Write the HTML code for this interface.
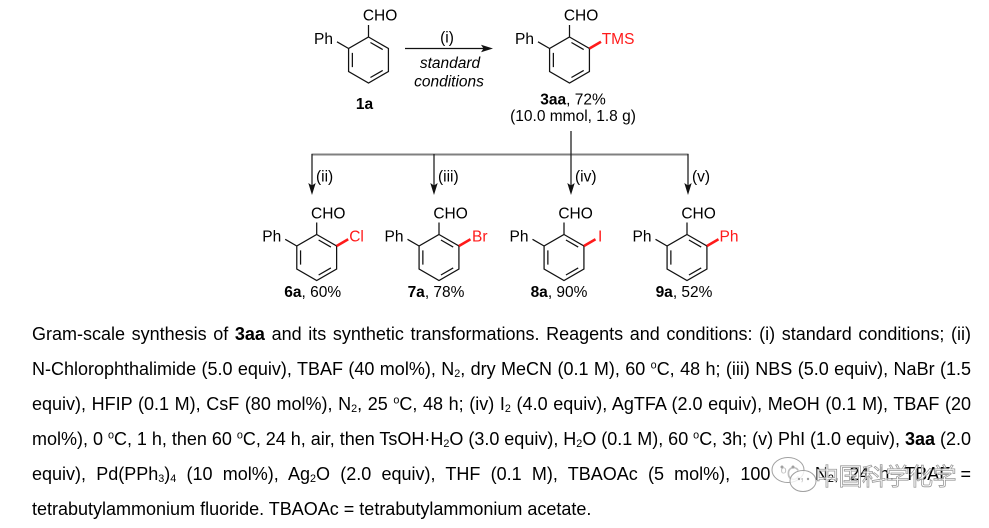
<!DOCTYPE html>
<html><head><meta charset="utf-8">
<style>
html,body{margin:0;padding:0;background:#fff;}
body{width:989px;height:525px;position:relative;overflow:hidden;}
svg text{font-family:"Liberation Sans",Arial,sans-serif;font-size:15.5px;fill:#000;}
.para{position:absolute;left:32px;top:317px;width:939px;font-family:"Liberation Sans",Arial,sans-serif;font-size:18px;line-height:35.1px;color:#000;}
.l{height:35.1px;overflow:hidden;text-align:justify;text-align-last:justify;word-spacing:-0.6px;}
.l.last{text-align-last:left;word-spacing:0;}
sub{font-size:0.6em;vertical-align:-0.18em;line-height:0;}
sup{font-size:0.6em;vertical-align:0.6em;line-height:0;}
.wm{position:absolute;left:815px;top:459px;font-family:"Noto Sans CJK SC","WenQuanYi Zen Hei",sans-serif;font-size:24px;line-height:32px;color:rgba(255,255,255,0.75);-webkit-text-stroke:0.8px #9a9a9a;letter-spacing:-0.5px;white-space:nowrap;}
</style></head><body>
<svg width="989" height="310" viewBox="0 0 989 310" style="position:absolute;left:0;top:0">
  <!-- 1a -->
  <g transform="translate(368.5,60)">
    <path d="M0,-23L19.92,-11.5L19.92,11.5L0,23L-19.92,11.5L-19.92,-11.5Z M0,-23L0,-35 M-19.92,-11.5L-31.5,-18.2 M1.94,-17.51L14.2,-10.44 M14.2,10.44L1.94,17.51 M-16.14,7.08L-16.14,-7.08" fill="none" stroke="#111" stroke-width="1.25"/>
    <text x="-5.7" y="-39.5">CHO</text>
    <text x="-35.5" y="-16" text-anchor="end">Ph</text>
    <text x="-4" y="49" text-anchor="middle" font-weight="bold">1a</text>
  </g>
  <!-- arrow i -->
  <line x1="405" y1="48.5" x2="486" y2="48.5" stroke="#111" stroke-width="1.3"/>
  <path d="M493,48.5L481,44.7L483.5,48.5L481,52.3Z" fill="#111"/>
  <text x="447" y="42.5" text-anchor="middle">(i)</text>
  <text x="450" y="68" text-anchor="middle" font-style="italic">standard</text>
  <text x="449" y="86.5" text-anchor="middle" font-style="italic">conditions</text>
  <!-- 3aa -->
  <g transform="translate(569.5,60)">
    <path d="M0,-23L19.92,-11.5L19.92,11.5L0,23L-19.92,11.5L-19.92,-11.5Z M0,-23L0,-35 M-19.92,-11.5L-31.5,-18.2 M1.94,-17.51L14.2,-10.44 M14.2,10.44L1.94,17.51 M-16.14,7.08L-16.14,-7.08" fill="none" stroke="#111" stroke-width="1.25"/>
    <path d="M19.92,-11.5L31.5,-18.2" stroke="#ff1a1a" stroke-width="2.6"/>
    <text x="-5.7" y="-39.5">CHO</text>
    <text x="-35.5" y="-16" text-anchor="end">Ph</text>
    <text x="32.2" y="-16" style="fill:#ff1a1a">TMS</text>
    <text x="3.5" y="44.5" text-anchor="middle"><tspan font-weight="bold">3aa</tspan>, 72%</text>
    <text x="3.5" y="61" text-anchor="middle">(10.0 mmol, 1.8 g)</text>
  </g>
  <!-- branch -->
  <line x1="311.5" y1="154.5" x2="688.5" y2="154.5" stroke="#808080" stroke-width="2"/>
  <g stroke="#222" stroke-width="1.3">
    <line x1="571" y1="131" x2="571" y2="186"/>
    <line x1="312" y1="154" x2="312" y2="186"/>
    <line x1="434" y1="154" x2="434" y2="186"/>
    <line x1="688" y1="154" x2="688" y2="186"/>
  </g>
  <g fill="#111">
    <path d="M312,195L308.3,183L312,185.5L315.7,183Z"/>
    <path d="M434,195L430.3,183L434,185.5L437.7,183Z"/>
    <path d="M571,195L567.3,183L571,185.5L574.7,183Z"/>
    <path d="M688,195L684.3,183L688,185.5L691.7,183Z"/>
  </g>
  <text x="316" y="181.5">(ii)</text>
  <text x="438" y="181.5">(iii)</text>
  <text x="575" y="181.5">(iv)</text>
  <text x="692" y="181.5">(v)</text>
  <!-- 6a -->
  <g transform="translate(316.7,257.5)">
    <path d="M0,-23L19.92,-11.5L19.92,11.5L0,23L-19.92,11.5L-19.92,-11.5Z M0,-23L0,-35 M-19.92,-11.5L-31.5,-18.2 M1.94,-17.51L14.2,-10.44 M14.2,10.44L1.94,17.51 M-16.14,7.08L-16.14,-7.08" fill="none" stroke="#111" stroke-width="1.25"/>
    <path d="M19.92,-11.5L31.5,-18.2" stroke="#ff1a1a" stroke-width="2.6"/>
    <text x="-5.7" y="-39">CHO</text>
    <text x="-35.5" y="-16" text-anchor="end">Ph</text>
    <text x="32.5" y="-16" style="fill:#ff1a1a">Cl</text>
    <text x="-4" y="39.5" text-anchor="middle"><tspan font-weight="bold">6a</tspan>, 60%</text>
  </g>
  <!-- 7a -->
  <g transform="translate(439,257.5)">
    <path d="M0,-23L19.92,-11.5L19.92,11.5L0,23L-19.92,11.5L-19.92,-11.5Z M0,-23L0,-35 M-19.92,-11.5L-31.5,-18.2 M1.94,-17.51L14.2,-10.44 M14.2,10.44L1.94,17.51 M-16.14,7.08L-16.14,-7.08" fill="none" stroke="#111" stroke-width="1.25"/>
    <path d="M19.92,-11.5L31.5,-18.2" stroke="#ff1a1a" stroke-width="2.6"/>
    <text x="-5.7" y="-39">CHO</text>
    <text x="-35.5" y="-16" text-anchor="end">Ph</text>
    <text x="33" y="-16" style="fill:#ff1a1a">Br</text>
    <text x="-3" y="39.5" text-anchor="middle"><tspan font-weight="bold">7a</tspan>, 78%</text>
  </g>
  <!-- 8a -->
  <g transform="translate(564,257.5)">
    <path d="M0,-23L19.92,-11.5L19.92,11.5L0,23L-19.92,11.5L-19.92,-11.5Z M0,-23L0,-35 M-19.92,-11.5L-31.5,-18.2 M1.94,-17.51L14.2,-10.44 M14.2,10.44L1.94,17.51 M-16.14,7.08L-16.14,-7.08" fill="none" stroke="#111" stroke-width="1.25"/>
    <path d="M19.92,-11.5L31.5,-18.2" stroke="#ff1a1a" stroke-width="2.6"/>
    <text x="-5.7" y="-39">CHO</text>
    <text x="-35.5" y="-16" text-anchor="end">Ph</text>
    <text x="34" y="-16" style="fill:#ff1a1a">I</text>
    <text x="-5" y="39.5" text-anchor="middle"><tspan font-weight="bold">8a</tspan>, 90%</text>
  </g>
  <!-- 9a -->
  <g transform="translate(687,257.5)">
    <path d="M0,-23L19.92,-11.5L19.92,11.5L0,23L-19.92,11.5L-19.92,-11.5Z M0,-23L0,-35 M-19.92,-11.5L-31.5,-18.2 M1.94,-17.51L14.2,-10.44 M14.2,10.44L1.94,17.51 M-16.14,7.08L-16.14,-7.08" fill="none" stroke="#111" stroke-width="1.25"/>
    <path d="M19.92,-11.5L31.5,-18.2" stroke="#ff1a1a" stroke-width="2.6"/>
    <text x="-5.7" y="-39">CHO</text>
    <text x="-35.5" y="-16" text-anchor="end">Ph</text>
    <text x="32.5" y="-16" style="fill:#ff1a1a">Ph</text>
    <text x="-3" y="39.5" text-anchor="middle"><tspan font-weight="bold">9a</tspan>, 52%</text>
  </g>
</svg>

<div class="para">
  <div class="l">Gram-scale synthesis of <b>3aa</b> and its synthetic transformations. Reagents and conditions: (i) standard conditions; (ii)</div>
  <div class="l">N-Chlorophthalimide (5.0 equiv), TBAF (40 mol%), N<sub>2</sub>, dry MeCN (0.1 M), 60 <sup>o</sup>C, 48 h; (iii) NBS (5.0 equiv), NaBr (1.5</div>
  <div class="l">equiv), HFIP (0.1 M), CsF (80 mol%), N<sub>2</sub>, 25 <sup>o</sup>C, 48 h; (iv) I<sub>2</sub> (4.0 equiv), AgTFA (2.0 equiv), MeOH (0.1 M), TBAF (20</div>
  <div class="l">mol%), 0 <sup>o</sup>C, 1 h, then 60 <sup>o</sup>C, 24 h, air, then TsOH·H<sub>2</sub>O (3.0 equiv), H<sub>2</sub>O (0.1 M), 60 <sup>o</sup>C, 3h; (v) PhI (1.0 equiv), <b>3aa</b> (2.0</div>
  <div class="l">equiv), Pd(PPh<sub>3</sub>)<sub>4</sub> (10 mol%), Ag<sub>2</sub>O (2.0 equiv), THF (0.1 M), TBAOAc (5 mol%), 100 <sup>o</sup>C, N<sub>2</sub>, 24 h. TBAF =</div>
  <div class="l last">tetrabutylammonium fluoride. TBAOAc = tetrabutylammonium acetate.</div>
</div>

<svg width="989" height="525" viewBox="0 0 989 525" style="position:absolute;left:0;top:0;pointer-events:none">
  <ellipse cx="788" cy="470" rx="16" ry="12.5" fill="rgba(255,255,255,0.75)" stroke="#a0a0a0" stroke-width="1"/>
  <ellipse cx="803" cy="481" rx="13" ry="10.5" fill="rgba(255,255,255,0.8)" stroke="#a0a0a0" stroke-width="1"/>
  <circle cx="782" cy="467" r="1.5" fill="#a0a0a0"/>
  <circle cx="793" cy="467" r="1.5" fill="#a0a0a0"/>
  <circle cx="799" cy="479" r="1.2" fill="#a0a0a0"/>
  <circle cx="808" cy="479" r="1.2" fill="#a0a0a0"/>
</svg>
<div class="wm">中国科学化学</div>
</body></html>
